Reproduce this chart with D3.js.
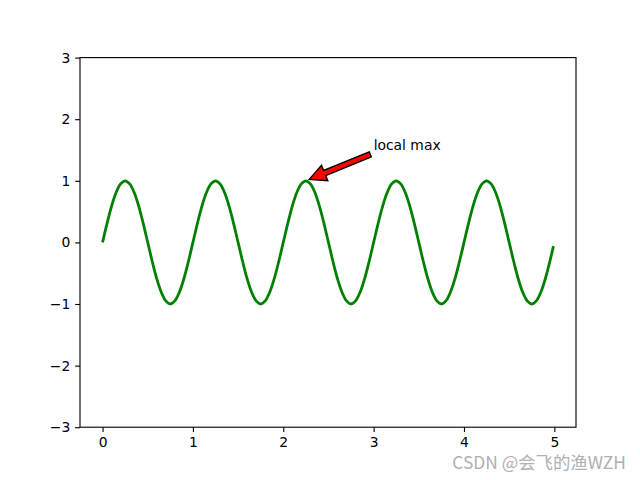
<!DOCTYPE html>
<html>
<head>
<meta charset="utf-8">
<script src="https://cdn.jsdelivr.net/npm/d3@7"></script>
<style>
  body { margin: 0; background: #fff; }
  svg { display: block; }
</style>
</head>
<body>
<div id="chart"></div>
<script>
const tValues = [
  0, 0.05, 0.1, 0.15, 0.2, 0.25, 0.3, 0.35, 0.4, 0.45, 0.5, 0.55, 0.6, 0.65, 0.7, 0.75, 0.8, 0.85, 0.9, 0.95,
  1, 1.05, 1.1, 1.15, 1.2, 1.25, 1.3, 1.35, 1.4, 1.45, 1.5, 1.55, 1.6, 1.65, 1.7, 1.75, 1.8, 1.85, 1.9, 1.95,
  2, 2.05, 2.1, 2.15, 2.2, 2.25, 2.3, 2.35, 2.4, 2.45, 2.5, 2.55, 2.6, 2.65, 2.7, 2.75, 2.8, 2.85, 2.9, 2.95,
  3, 3.05, 3.1, 3.15, 3.2, 3.25, 3.3, 3.35, 3.4, 3.45, 3.5, 3.55, 3.6, 3.65, 3.7, 3.75, 3.8, 3.85, 3.9, 3.95,
  4, 4.05, 4.1, 4.15, 4.2, 4.25, 4.3, 4.35, 4.4, 4.45, 4.5, 4.55, 4.6, 4.65, 4.7, 4.75, 4.8, 4.85, 4.9, 4.95,
  4.99
];
const sValues = [
  0, 0.31, 0.59, 0.81, 0.95, 1, 0.95, 0.81, 0.59, 0.31, 0, -0.31, -0.59, -0.81, -0.95, -1, -0.95, -0.81, -0.59, -0.31,
  0, 0.31, 0.59, 0.81, 0.95, 1, 0.95, 0.81, 0.59, 0.31, 0, -0.31, -0.59, -0.81, -0.95, -1, -0.95, -0.81, -0.59, -0.31,
  0, 0.31, 0.59, 0.81, 0.95, 1, 0.95, 0.81, 0.59, 0.31, 0, -0.31, -0.59, -0.81, -0.95, -1, -0.95, -0.81, -0.59, -0.31,
  0, 0.31, 0.59, 0.81, 0.95, 1, 0.95, 0.81, 0.59, 0.31, 0, -0.31, -0.59, -0.81, -0.95, -1, -0.95, -0.81, -0.59, -0.31,
  0, 0.31, 0.59, 0.81, 0.95, 1, 0.95, 0.81, 0.59, 0.31, 0, -0.31, -0.59, -0.81, -0.95, -1, -0.95, -0.81, -0.59, -0.31,
  -0.06
];
const xTicks = [0, 1, 2, 3, 4, 5];
const yTicks = [-3, -2, -1, 0, 1, 2, 3];
const annotPoint = [2.25, 1];
const annotText = [3, 1.5];
const annotLabel = "local max";
const watermark = "CSDN @会飞的渔WZH";

const W = 640, H = 480;
const mLeft = 80, mRight = 576, mTop = 57.6, mBottom = 427.2;
const pt = 100 / 72;

const data = tValues.map((t, i) => ({ t: t, s: sValues[i] }));

const svg = d3.select("#chart").append("svg")
  .attr("width", W)
  .attr("height", H);

svg.append("rect").attr("width", W).attr("height", H).attr("fill", "#fff");

// 5% margins like matplotlib autoscale
const xMin = d3.min(tValues), xMax = d3.max(tValues);
const pad = (xMax - xMin) * 0.05;
const x = d3.scaleLinear().domain([xMin - pad, xMax + pad]).range([mLeft, mRight]);
const y = d3.scaleLinear().domain([-3, 3]).range([mBottom, mTop]);

const tickLen = 3.5 * pt;
const fmt = (d) => String(d).replace("-", "\u2212");

const xAxis = svg.append("g")
  .attr("transform", "translate(0," + mBottom + ")")
  .call(d3.axisBottom(x).tickValues(xTicks).tickFormat(fmt)
    .tickSize(tickLen).tickPadding(3.5 * pt).tickSizeOuter(0));

const yAxis = svg.append("g")
  .attr("transform", "translate(" + mLeft + ",0)")
  .call(d3.axisLeft(y).tickValues(yTicks).tickFormat(fmt)
    .tickSize(tickLen).tickPadding(3.5 * pt).tickSizeOuter(0));

[xAxis, yAxis].forEach((g) => {
  g.select(".domain").remove();
  g.selectAll(".tick line").attr("stroke", "#000").attr("stroke-width", 0.8 * pt);
  g.selectAll(".tick text")
    .attr("fill", "#000")
    .style("font-family", "DejaVu Sans")
    .style("font-size", (10 * pt) + "px");
});

// curve
const line = d3.line()
  .x((d) => x(d.t))
  .y((d) => y(d.s))
  .curve(d3.curveCatmullRom.alpha(0.5));

svg.append("path")
  .datum(data)
  .attr("fill", "none")
  .attr("stroke", "#008000")
  .attr("stroke-width", 2 * pt)
  .attr("stroke-linejoin", "round")
  .attr("d", line);

// spines
svg.append("rect")
  .attr("x", mLeft)
  .attr("y", mTop)
  .attr("width", mRight - mLeft)
  .attr("height", mBottom - mTop)
  .attr("fill", "none")
  .attr("stroke", "#000")
  .attr("stroke-width", 0.8 * pt);

// annotation text
const label = svg.append("text")
  .attr("x", x(annotText[0]))
  .attr("y", y(annotText[1]))
  .style("font-family", "DejaVu Sans")
  .style("font-size", (10 * pt) + "px")
  .attr("fill", "#000")
  .text(annotLabel);

// arrow from lower-left corner of text box to the point, shrunk 5% at both ends
const bb = label.node().getBBox();
let sx = bb.x, sy = bb.y + bb.height;
let ex = x(annotPoint[0]), ey = y(annotPoint[1]);
const r = Math.hypot(ex - sx, ey - sy);
const ux = (ex - sx) / r, uy = (ey - sy) / r;
const shrink = 0.05 * r;
sx += ux * shrink; sy += uy * shrink;
ex -= ux * shrink; ey -= uy * shrink;
const nx = -uy, ny = ux;
const tw = 4 * pt / 2, hw = 12 * pt / 2, hl = 12 * pt;
const kx = ex - ux * hl, ky = ey - uy * hl;
const arrowPts = [
  [sx + nx * tw, sy + ny * tw],
  [kx + nx * tw, ky + ny * tw],
  [kx + nx * hw, ky + ny * hw],
  [ex, ey],
  [kx - nx * hw, ky - ny * hw],
  [kx - nx * tw, ky - ny * tw],
  [sx - nx * tw, sy - ny * tw]
];
svg.append("path")
  .attr("d", d3.line()(arrowPts) + "Z")
  .attr("fill", "#ff0000")
  .attr("stroke", "#000")
  .attr("stroke-width", 1 * pt)
  .attr("stroke-linejoin", "miter");

// watermark
svg.append("text")
  .attr("x", 626)
  .attr("y", 469)
  .attr("text-anchor", "end")
  .style("font-family", "Noto Sans CJK SC")
  .style("font-size", "17.4px")
  .attr("fill", "#b0b0b0")
  .text(watermark);
</script>
</body>
</html>
